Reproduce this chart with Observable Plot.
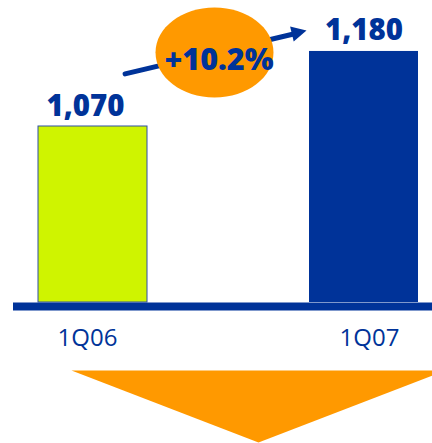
<!DOCTYPE html>
<html>
<head>
<meta charset="utf-8">
<script src="https://cdn.jsdelivr.net/npm/d3@7"></script>
<script src="https://cdn.jsdelivr.net/npm/@observablehq/plot@0.6"></script>
<style>
  html, body { margin: 0; padding: 0; background: #fff; }
  #chart svg { display: block; overflow: visible; }
</style>
</head>
<body>
<div id="chart"></div>
<script>
// ---- data ----
const categories = ["1Q06", "1Q07"];
const values = [1070, 1180];
const valueLabels = ["1,070", "1,180"];
const barColors = ["#CFF400", "#003399"];
const growthLabel = "+10.2%";

// annotation anchors (in data units)
const yBase = 812;
const yTop = 1254.7;
const arrowFrom = 1136;
const arrowTo = 1230;
const arrowTipY = 1210.7;
const bubbleY = 1178.5;
const growthTextY = 1167.5;
const pointerY = 659.6;

const BLUE = "#003399";
const ORANGE = "#FF9900";

const bars = categories.map((c, i) => ({cat: c, value: values[i], label: valueLabels[i], color: barColors[i]}));

// custom shapes
const ellipseSymbol = {
  draw(ctx) {
    const rx = 59, ry = 45, k = 0.5523;
    ctx.moveTo(rx, 0);
    ctx.bezierCurveTo(rx, ry * k, rx * k, ry, 0, ry);
    ctx.bezierCurveTo(-rx * k, ry, -rx, ry * k, -rx, 0);
    ctx.bezierCurveTo(-rx, -ry * k, -rx * k, -ry, 0, -ry);
    ctx.bezierCurveTo(rx * k, -ry, rx, -ry * k, rx, 0);
    ctx.closePath();
  }
};
const downTriangle = {
  draw(ctx) {
    const hw = 187, hh = 36;
    ctx.moveTo(-hw, -hh);
    ctx.lineTo(hw, -hh);
    ctx.lineTo(0, hh);
    ctx.closePath();
  }
};
// filled arrow head, tip at origin, pointing along the arrow direction
const arrowHead = {
  draw(ctx) {
    const a = Math.atan2(-43, 181), len = 15, hw = 7.8;
    const ux = Math.cos(a), uy = Math.sin(a), nx = -uy, ny = ux;
    const bx = -len * ux, by = -len * uy;
    ctx.moveTo(0, 0);
    ctx.lineTo(bx + hw * nx, by + hw * ny);
    ctx.lineTo(bx - hw * nx, by - hw * ny);
    ctx.closePath();
  }
};

const chart = Plot.plot({
  width: 432,
  height: 443,
  marginLeft: 38,
  marginRight: 14,
  marginTop: 0,
  marginBottom: 141,
  style: {background: "#fff", fontFamily: "'Open Sans', sans-serif"},
  x: {type: "band", domain: categories, paddingInner: 0.598, paddingOuter: 0, axis: null},
  y: {domain: [yBase, yTop], axis: null},
  marks: [
    Plot.barY(bars, {x: "cat", y1: yBase, y2: "value", fill: "color", stroke: (d, i) => i === 0 ? "#2F4FA5" : "none", strokeWidth: 1}),
    Plot.ruleY([yBase], {stroke: BLUE, strokeWidth: 8, dy: 4, insetLeft: -25, insetRight: -14}),
    Plot.text(bars.slice(0, 1), {x: "cat", y: "value", text: "label", dy: -10, dx: -7.5, lineAnchor: "bottom", fill: BLUE, fontSize: 29.4, fontWeight: 800}),
    Plot.text(bars.slice(1), {x: "cat", y: "value", text: "label", dy: -11, dx: 0, lineAnchor: "bottom", fill: BLUE, fontSize: 29.4, fontWeight: 800}),
    Plot.text(bars.slice(0, 1), {x: "cat", frameAnchor: "bottom", text: "cat", dy: 26, dx: -5.5, lineAnchor: "top", fill: BLUE, fontSize: 24, fontWeight: 400}),
    Plot.text(bars.slice(1), {x: "cat", frameAnchor: "bottom", text: "cat", dy: 26, dx: 5.5, lineAnchor: "top", fill: BLUE, fontSize: 24, fontWeight: 400}),
    Plot.arrow([{}], {x1: () => categories[0], x2: () => categories[1], y1: () => arrowFrom, y2: () => arrowTo, bend: 0, stroke: BLUE, strokeWidth: 5, headLength: 0, insetStart: 33, insetEnd: 68}),
    Plot.dot([{}], {x: () => categories[1], y: () => arrowTipY, dx: -57.5, symbol: arrowHead, r: 10, fill: BLUE, stroke: "none"}),
    Plot.dot([{}], {y: () => bubbleY, frameAnchor: "middle", dx: -14, symbol: ellipseSymbol, r: 10, fill: ORANGE, stroke: "none"}),
    Plot.text([growthLabel], {y: () => growthTextY, frameAnchor: "middle", dx: -9.5, text: d => d, lineAnchor: "middle", fill: BLUE, fontSize: 30.5, fontWeight: 800}),
    Plot.dot([{}], {y: () => pointerY, frameAnchor: "middle", dx: 30, symbol: downTriangle, r: 10, fill: ORANGE, stroke: "none"})
  ]
});
document.getElementById("chart").appendChild(chart);
</script>
</body>
</html>
